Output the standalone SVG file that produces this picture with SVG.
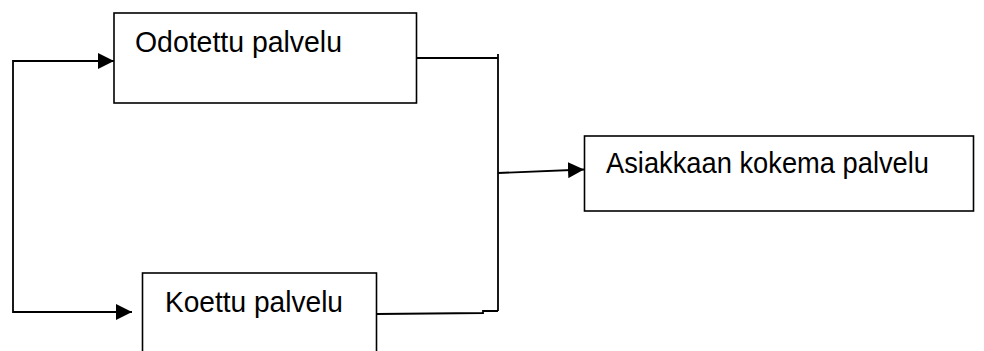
<svg xmlns="http://www.w3.org/2000/svg" width="984" height="351" viewBox="0 0 984 351">
  <style>
    .box { fill: #ffffff; stroke: #000000; stroke-width: 1.6; }
    .label { font-family: "Liberation Sans", Arial, sans-serif; font-size: 29px; fill: #000000; }
    .wire { fill: none; stroke: #000000; stroke-width: 1.8; }
  </style>
  <defs>
    <marker id="arrow" markerWidth="16" markerHeight="16" viewBox="0 0 16 16" refX="16" refY="8" orient="auto" markerUnits="userSpaceOnUse">
      <path d="M0,0 L16,8 L0,16 Z" fill="#000000"/>
    </marker>
  </defs>

  <g id="odotettu">
    <rect class="box" x="114" y="13" width="302.5" height="90"/>
    <text class="label" x="135" y="52" textLength="207" lengthAdjust="spacingAndGlyphs">Odotettu palvelu</text>
  </g>

  <g id="koettu">
    <rect class="box" x="142.5" y="273" width="234" height="100"/>
    <text class="label" x="165" y="312" textLength="178" lengthAdjust="spacingAndGlyphs">Koettu palvelu</text>
  </g>

  <g id="asiakkaan">
    <rect class="box" x="584.5" y="136" width="389" height="75"/>
    <text class="label" x="606" y="173" font-size="30" textLength="323" lengthAdjust="spacingAndGlyphs">Asiakkaan kokema palvelu</text>
  </g>

  <g id="connectors">
    <!-- left feed into both boxes -->
    <polyline class="wire" points="113,61 13,61 13,313"/>
    <line class="wire" x1="13" y1="61" x2="114" y2="61" marker-end="url(#arrow)"/>
    <line class="wire" x1="13" y1="312" x2="132" y2="312" marker-end="url(#arrow)"/>
    <!-- merge on the right -->
    <polyline class="wire" points="416,58 498,58"/>
    <line class="wire" x1="498" y1="54" x2="498" y2="311"/>
    <polyline class="wire" points="377,314 483,313 483,311 498,311"/>
    <line class="wire" x1="498" y1="173" x2="584" y2="169.5" marker-end="url(#arrow)"/>
  </g>
</svg>
